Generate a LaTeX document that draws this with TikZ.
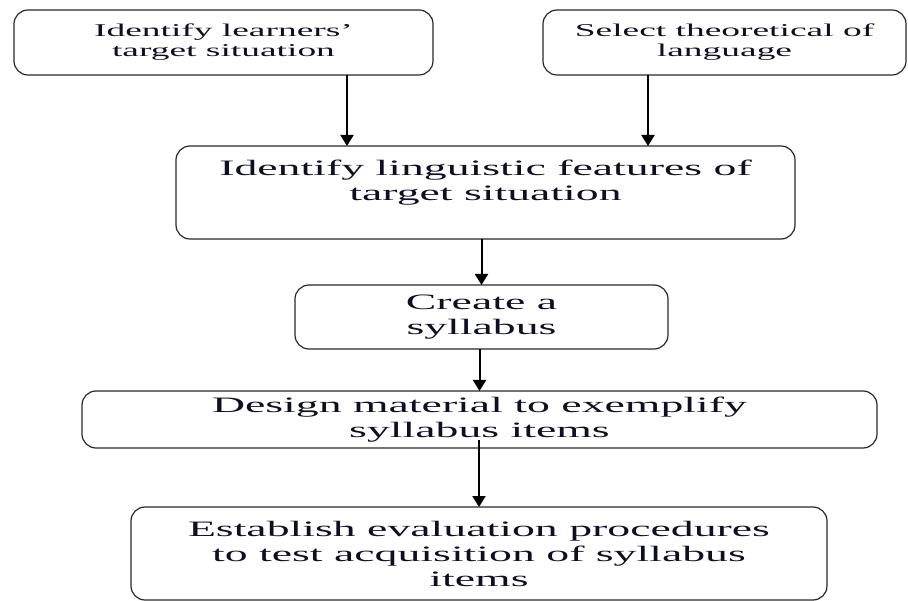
\documentclass[tikz,border=0pt]{standalone}
\usepackage{fontspec}
\setmainfont[FakeStretch=2.08]{Liberation Serif}
\usetikzlibrary{arrows.meta}
\definecolor{boxline}{RGB}{40,40,40}
\definecolor{textdark}{RGB}{15,15,35}

\begin{document}
\begin{tikzpicture}[x=1pt,y=-1pt,
        smallbox/.style={draw=boxline,line width=1.2pt,rounded corners=14pt,
                         text=textdark,outer sep=0pt,inner sep=0pt,align=center,
                         font=\fontsize{18}{20}\selectfont},
        bigbox/.style={smallbox,font=\fontsize{22}{25}\selectfont},
        flow/.style={-{Triangle[width=13pt,length=11pt]},line width=2pt,black}]
      \useasboundingbox (0,0) rectangle (908,601);
      \node[smallbox,minimum width=419pt,minimum height=65pt] (learn) at (223.5,42.5)
        {Identify learners’\\target situation};
      \node[smallbox,minimum width=363pt,minimum height=65pt] (theory) at (724.5,42.5)
        {Select theoretical of\\language};
      \node[bigbox,minimum width=619pt,minimum height=93pt] (ling) at (485.5,192.5)
        {Identify linguistic features of\\target situation\\\mbox{}};
      \node[bigbox,minimum width=373pt,minimum height=64pt] (syll) at (481.5,317)
        {Create a\\syllabus};
      \node[bigbox,minimum width=795pt,minimum height=57pt] (design) at (479.5,419.5)
        {Design material to exemplify\\syllabus items};
      \node[bigbox,minimum width=696pt,minimum height=93pt] (evalproc) at (479,553.5)
        {Establish evaluation procedures\\to test acquisition of syllabus\\items};
      \coordinate (l1) at ([xshift=123.5pt]learn.south);
      \coordinate (t1) at ([xshift=-76.5pt]theory.south);
      \coordinate (d1) at (evalproc.north |- design.south);
      \draw[flow] (l1) -- (l1 |- ling.north);
      \draw[flow] (t1) -- (t1 |- ling.north);
      \draw[flow] (syll.north |- ling.south) -- (syll.north);
      \draw[flow] (design.north |- syll.south) -- (design.north);
      \draw[flow] ([yshift=8pt]d1) -- (evalproc.north);
    \end{tikzpicture}
\end{document}
